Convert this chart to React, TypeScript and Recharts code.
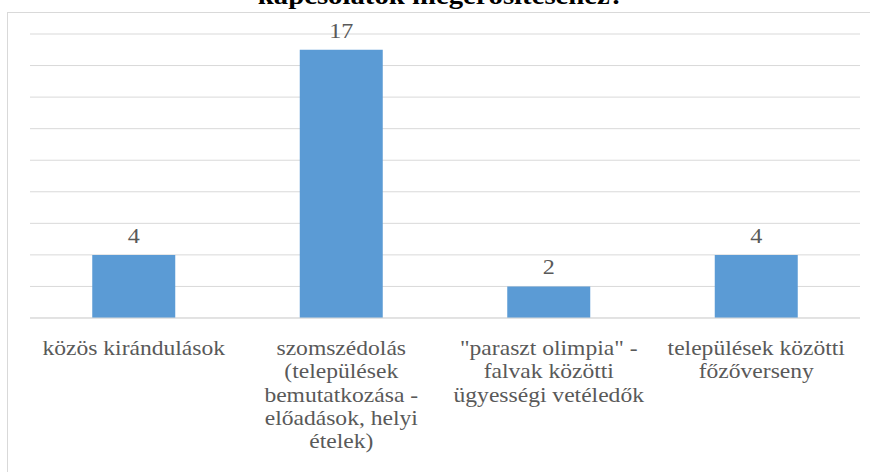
import React from "react";
import { BarChart, Bar, XAxis, YAxis, CartesianGrid, LabelList } from "recharts";

const categories = [
  "közös kirándulások",
  "szomszédolás\n(települések\nbemutatkozása -\nelőadások, helyi\nételek)",
  "\"paraszt olimpia\" -\nfalvak közötti\nügyességi vetéledők",
  "települések közötti\nfőzőverseny",
];
const values = [4, 17, 2, 4];
const yTicks = [0, 2, 4, 6, 8, 10, 12, 14, 16, 18];
const title = "kapcsolatok megerősítéséhez?";

const data = categories.map((c, i) => ({ name: c, value: values[i] }));

const FONT = "'Liberation Serif', 'Times New Roman', serif";
const TEXT_COLOR = "#595959";
const SX = 1.15;

const MultiLineTick = (props: any) => {
  const { x, y, payload } = props;
  const lines = String(payload.value).split("\n");
  return (
    <g transform={`translate(${x},${y}) scale(${SX},1)`}>
      <text
        x={0}
        y={0}
        textAnchor="middle"
        fill={TEXT_COLOR}
        style={{ fontFamily: FONT, fontSize: 20.5 }}
      >
        {lines.map((l, i) => (
          <tspan key={i} x={0} dy={i === 0 ? 35 : 23.3}>
            {l}
          </tspan>
        ))}
      </text>
    </g>
  );
};

const ValueLabel = (props: any) => {
  const { x, y, width, value } = props;
  const cx = Number(x) + Number(width) / 2;
  const cy = Number(y) - 12;
  return (
    <g transform={`translate(${cx},${cy}) scale(${SX},1)`}>
      <text
        x={0}
        y={0}
        textAnchor="middle"
        fill={TEXT_COLOR}
        style={{ fontFamily: FONT, fontSize: 21 }}
      >
        {value}
      </text>
    </g>
  );
};

export default function App() {
  return (
    <div style={{ position: "absolute", left: 0, top: 0, width: 870, height: 472, background: "#fff" }}>
      <BarChart
        width={870}
        height={472}
        data={data}
        margin={{ top: 34, right: 10, bottom: 0, left: 30 }}
        barCategoryGap="30%"
      >
        <CartesianGrid vertical={false} stroke="#d9d9d9" strokeWidth={1} />
        <YAxis hide domain={[0, 18]} ticks={yTicks} />
        <XAxis
          dataKey="name"
          interval={0}
          height={154}
          axisLine={{ stroke: "#d9d9d9" }}
          tickLine={false}
          tickSize={0}
          tick={<MultiLineTick />}
        />
        <Bar dataKey="value" fill="#5b9bd5" isAnimationActive={false}>
          <LabelList dataKey="value" content={<ValueLabel />} />
        </Bar>
      </BarChart>
      <svg
        width={870}
        height={472}
        style={{ position: "absolute", left: 0, top: 0, pointerEvents: "none" }}
      >
        <rect x={7.5} y={12.5} width={870} height={470} fill="none" stroke="#d9d9d9" strokeWidth={1} />
        <g transform={`translate(441,3.5) scale(${SX},1)`}>
          <text
            x={0}
            y={0}
            textAnchor="middle"
            fill="#000"
            style={{ fontFamily: FONT, fontWeight: "bold", fontSize: 25 }}
          >
            {title}
          </text>
        </g>
      </svg>
    </div>
  );
}
